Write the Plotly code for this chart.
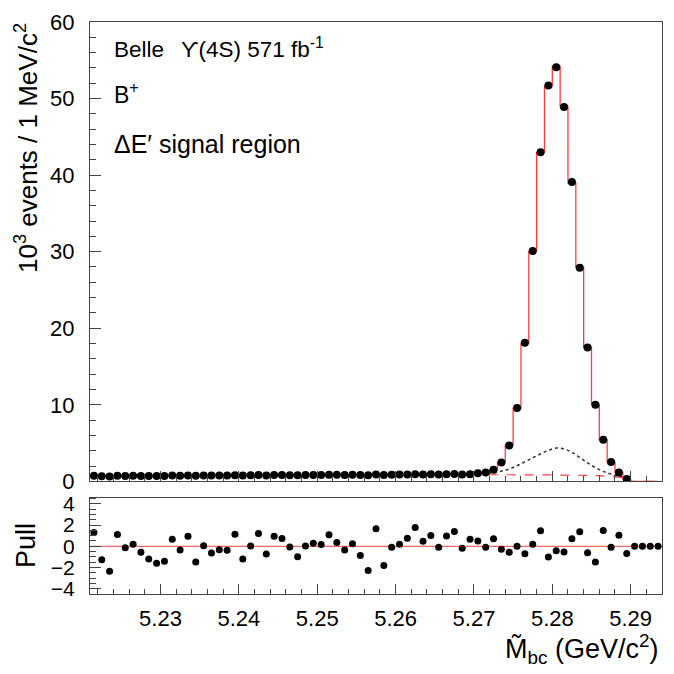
import numpy as np
import plotly.graph_objects as go

# bin centres of the 1 MeV bins, 5.221 - 5.294 GeV/c^2
mbc = np.round(np.arange(5.2215, 5.2940, 0.001), 4)

# data, 10^3 events per bin (bins 0..68, nothing above the endpoint)
data = [0.736, 0.669, 0.643, 0.745, 0.714, 0.728, 0.711, 0.698, 0.691, 0.702,
        0.764, 0.740, 0.781, 0.717, 0.765, 0.750, 0.763, 0.766, 0.813, 0.752,
        0.791, 0.829, 0.779, 0.831, 0.828, 0.811, 0.790, 0.823, 0.834, 0.835,
        0.865, 0.850, 0.834, 0.856, 0.829, 0.794, 0.908, 0.816, 0.868, 0.881,
        0.901, 0.935, 0.902, 0.923, 0.895, 0.930, 0.946, 0.907, 0.939,
        1.07, 1.16, 1.51, 2.45, 4.68, 9.59, 18.1, 30.1, 43.0, 51.7,
        54.1, 48.9, 39.1, 27.9, 17.5, 10.0, 5.45, 2.54, 1.16, 0.30]

# total fit (red histogram)
fit_total = [0.700, 0.705, 0.709, 0.714, 0.718, 0.723, 0.727, 0.732, 0.736, 0.741,
             0.745, 0.750, 0.754, 0.759, 0.763, 0.768, 0.772, 0.777, 0.781, 0.786,
             0.790, 0.795, 0.799, 0.804, 0.808, 0.813, 0.817, 0.822, 0.826, 0.831,
             0.835, 0.840, 0.844, 0.849, 0.853, 0.858, 0.862, 0.867, 0.871, 0.876,
             0.880, 0.885, 0.889, 0.894, 0.898, 0.903, 0.907, 0.912, 0.920,
             1.05, 1.20, 1.50, 2.45, 4.70, 9.55, 18.05, 30.05, 42.95, 51.65,
             54.2, 48.95, 39.0, 27.95, 17.5, 10.05, 5.45, 2.52, 1.17, 0.31,
             0.0, 0.0, 0.0, 0.0]

# combinatorial background (red dashed)
comb_bkg = [0.690, 0.694, 0.698, 0.702, 0.706, 0.710, 0.714, 0.718, 0.722, 0.726,
            0.730, 0.734, 0.738, 0.742, 0.746, 0.750, 0.754, 0.758, 0.762, 0.766,
            0.770, 0.774, 0.778, 0.782, 0.786, 0.790, 0.794, 0.798, 0.802, 0.806,
            0.810, 0.814, 0.818, 0.822, 0.826, 0.830, 0.834, 0.838, 0.842, 0.846,
            0.850, 0.852, 0.854, 0.856, 0.858, 0.860, 0.861, 0.862, 0.863,
            0.864, 0.864, 0.864, 0.863, 0.862, 0.860, 0.857, 0.853, 0.848, 0.842,
            0.834, 0.824, 0.812, 0.796, 0.776, 0.750, 0.715, 0.660, 0.560, 0.150,
            0.0, 0.0, 0.0, 0.0]

# total background (black dotted), bins 48..68
bkg_x = mbc[48:69]
bkg_total = [0.93, 0.97, 1.02, 1.12, 1.33, 1.62, 2.05, 2.55, 3.08, 3.58, 4.05,
             4.35, 4.22, 3.80, 3.12, 2.42, 1.80, 1.30, 0.95, 0.66, 0.40]

# pulls, all 73 bins
pull = [1.30, -1.27, -2.35, 1.11, -0.13, 0.19, -0.57, -1.20, -1.59, -1.40,
        0.67, -0.35, 0.95, -1.49, 0.06, -0.63, -0.32, -0.38, 1.14, -1.20,
        0.03, 1.20, -0.73, 0.95, 0.73, -0.06, -0.98, 0.03, 0.29, 0.16,
        1.08, 0.35, -0.35, 0.25, -0.86, -2.29, 1.65, -1.81, -0.10, 0.19,
        0.76, 1.78, 0.48, 1.02, -0.10, 0.98, 1.40, -0.19, 0.67, 0.51,
        -0.10, 0.70, -0.29, -0.57, 0.00, -0.70, 0.19, 1.46, -1.02, -0.41,
        -0.54, 0.70, 1.37, -0.60, -1.49, 1.49, -0.10, 1.05, -0.67, 0.00,
        0.00, 0.00, 0.00]

FONT = 'Liberation Sans, Arial, sans-serif'
RED = '#ff3c3c'
AX = '#444444'

# plot area in page pixels
L, R, T, B = 90, 12, 10, 80
H = 674 - T - B


def py(y):
    # page pixel row -> paper y
    return (674 - B - y) / H


def px(x):
    return (x - L) / (674 - L - R)


fig = go.Figure()

fig.add_trace(go.Scatter(x=mbc, y=comb_bkg, mode='lines', line_shape='hvh',
                         line=dict(color=RED, width=1.2, dash='dash'),
                         xaxis='x', yaxis='y'))
fig.add_trace(go.Scatter(x=bkg_x, y=bkg_total, mode='lines', line_shape='spline',
                         line=dict(color='#333333', width=1.5, dash='dot'),
                         xaxis='x', yaxis='y'))
fig.add_trace(go.Scatter(x=mbc, y=fit_total, mode='lines', line_shape='hvh',
                         line=dict(color=RED, width=1.3),
                         xaxis='x', yaxis='y'))
fig.add_trace(go.Scatter(x=mbc[:len(data)], y=data, mode='markers',
                         marker=dict(color='black', size=8),
                         xaxis='x', yaxis='y'))

# pull panel
fig.add_trace(go.Scatter(x=[5.221, 5.294], y=[0, 0], mode='lines',
                         line=dict(color=RED, width=1),
                         xaxis='x2', yaxis='y2'))
fig.add_trace(go.Scatter(x=mbc, y=pull, mode='markers',
                         marker=dict(color='black', size=7),
                         xaxis='x2', yaxis='y2'))

xcommon = dict(range=[5.221, 5.294], showgrid=False, zeroline=False,
               showline=True, linecolor=AX, linewidth=1, mirror=True,
               ticks='inside', ticklen=10, tickcolor=AX, dtick=0.01, tick0=5.22,
               minor=dict(ticks='inside', ticklen=5, dtick=0.002, tickcolor=AX))

fig.update_layout(
    width=674, height=674,
    margin=dict(l=L, r=R, t=T, b=B),
    paper_bgcolor='white', plot_bgcolor='white',
    showlegend=False,
    font=dict(family=FONT, size=22, color='black'),
    xaxis=dict(xcommon, anchor='y', showticklabels=False),
    yaxis=dict(domain=[py(479), 1.0], range=[0, 60], showgrid=False, zeroline=False,
               showline=True, linecolor=AX, linewidth=1, mirror=True,
               ticks='inside', ticklen=11, tickcolor=AX, dtick=10,
               minor=dict(ticks='inside', ticklen=6, dtick=2, tickcolor=AX),
               tickfont=dict(size=22), ticklabelstandoff=10,
               ticklabeloverflow='allow'),
    xaxis2=dict(xcommon, anchor='y2', tickformat='.2f',
                tickfont=dict(size=22), ticklabelstandoff=5),
    yaxis2=dict(domain=[0.0, py(495.5)], range=[-4.5, 4.6], showgrid=False, zeroline=False,
                showline=True, linecolor=AX, linewidth=1, mirror=True,
                ticks='inside', ticklen=11, tickcolor=AX, dtick=2,
                minor=dict(ticks='inside', ticklen=6, dtick=0.5, tickcolor=AX),
                tickfont=dict(size=21), ticklabelstandoff=10),
)

nb = '\u00a0'
annotations = [
    dict(text='10<sup>3</sup> events / 1 MeV/c<sup>2</sup>', x=px(26), y=py(9),
         xanchor='center', yanchor='top', textangle=-90, font=dict(size=26)),
    dict(text='Pull', x=px(26), y=py(545), xanchor='center', yanchor='middle',
         textangle=-90, font=dict(size=27)),
    dict(text='M\u0303<sub>bc</sub> (GeV/c<sup>2</sup>)', x=px(661), y=py(650),
         xanchor='right', yanchor='middle', font=dict(size=27)),
    dict(text=f'Belle{nb*2}\u2009\u03d2(4S){nb}571 fb<sup>-1</sup>', x=px(112), y=py(37),
         xanchor='left', yanchor='middle', font=dict(size=22.5)),
    dict(text='B<sup>+</sup>', x=px(112), y=py(82), xanchor='left', yanchor='middle',
         font=dict(size=23)),
    dict(text='\u0394E\u2032 signal region', x=px(112), y=py(135), xanchor='left',
         yanchor='middle', font=dict(size=25)),
]
for a in annotations:
    a.update(xref='paper', yref='paper', showarrow=False)
fig.update_layout(annotations=annotations)

fig.write_html('out.html', config={'displayModeBar': False},
               post_script="document.body.style.margin='0px';")
